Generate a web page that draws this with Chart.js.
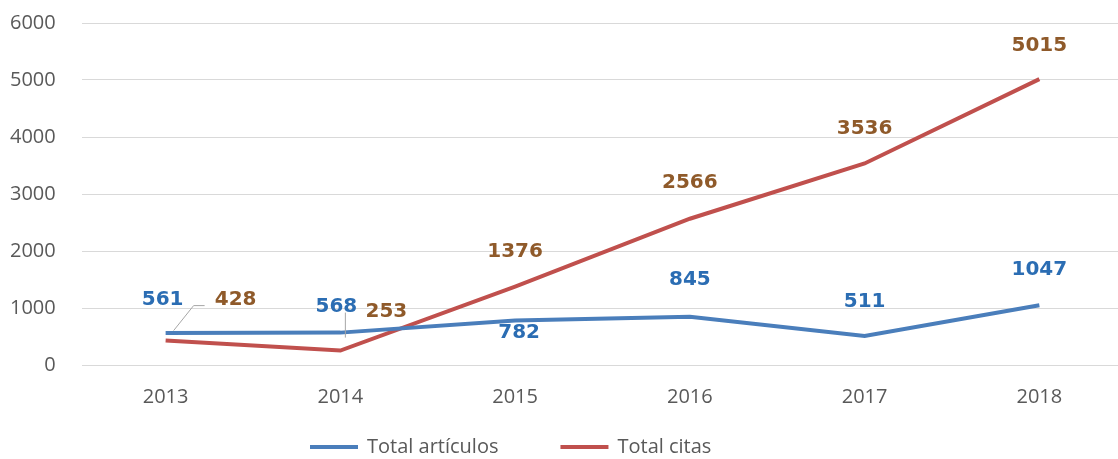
<!DOCTYPE html>
<html>
<head>
<meta charset="utf-8">
<script src="https://cdn.jsdelivr.net/npm/chart.js@4"></script>
<style>
  html, body { margin: 0; padding: 0; background: #fff; }
  #wrap { width: 1118px; height: 459px; }
</style>
</head>
<body>
<div id="wrap"><canvas id="grafico"></canvas></div>
<script>
const years = [2013, 2014, 2015, 2016, 2017, 2018];
const totalArticulos = [561, 568, 782, 845, 511, 1047];
const totalCitas = [428, 253, 1376, 2566, 3536, 5015];
const seriesNames = ['Total artículos', 'Total citas'];

// desplazamiento de cada etiqueta respecto a su punto (px)
const offsArticulos = [[-3, -33], [-4, -26], [4, 12], [0, -37], [0, -34], [0, -36]];
const offsCitas = [[70, -41], [46, -39], [0, -35], [0, -36], [0, -35], [0, -33]];

const azul = '#4a7ebb';
const rojo = '#c0504d';
const textoAzul = '#2b6db3';
const textoMarron = '#8f5a2a';
const gris = '#595959';

const puntos = vals => years.map((y, i) => ({ x: y, y: vals[i] }));

// etiquetas de valor + líneas guía de las dos primeras citas
const etiquetas = {
  id: 'etiquetas',
  afterDatasetsDraw(chart) {
    const ctx = chart.ctx;
    const conf = [
      { offs: offsArticulos, color: textoAzul },
      { offs: offsCitas, color: textoMarron }
    ];
    ctx.save();
    // líneas guía
    const metaC = chart.getDatasetMeta(1).data;
    ctx.strokeStyle = '#a6a6a6';
    ctx.lineWidth = 1;
    let p = metaC[0], lx = p.x + offsCitas[0][0], ly = p.y + offsCitas[0][1];
    ctx.beginPath();
    ctx.moveTo(p.x + 8, p.y - 10);
    ctx.lineTo(lx - 42, ly + 6);
    ctx.lineTo(lx - 31, ly + 6);
    ctx.stroke();
    p = metaC[1]; lx = p.x + offsCitas[1][0]; ly = p.y + offsCitas[1][1];
    ctx.beginPath();
    ctx.moveTo(p.x + 5, p.y - 13);
    ctx.lineTo(p.x + 5, ly + 1);
    ctx.stroke();

    ctx.font = 'bold 20px "DejaVu Sans"';
    ctx.textAlign = 'center';
    ctx.textBaseline = 'middle';
    chart.data.datasets.forEach((ds, i) => {
      const meta = chart.getDatasetMeta(i);
      ctx.fillStyle = conf[i].color;
      meta.data.forEach((pt, j) => {
        const o = conf[i].offs[j];
        ctx.fillText(String(ds.data[j].y), pt.x + o[0], pt.y + o[1]);
      });
    });
    ctx.restore();
  }
};

// leyenda dibujada a mano para controlar el espacio entre elementos
const leyenda = {
  id: 'leyenda',
  afterDraw(chart) {
    const ctx = chart.ctx;
    ctx.save();
    ctx.font = '20px "Open Sans"';
    ctx.textBaseline = 'middle';
    ctx.textAlign = 'left';
    const y = 447;
    let x = 310;
    chart.data.datasets.forEach(ds => {
      ctx.fillStyle = ds.borderColor;
      ctx.fillRect(x, y - 2, 48, 4);
      ctx.fillStyle = gris;
      ctx.fillText(ds.label, x + 57, y);
      x += 57 + ctx.measureText(ds.label).width + 62;
    });
    ctx.restore();
  }
};

new Chart(document.getElementById('grafico'), {
  type: 'line',
  data: {
    datasets: [
      {
        label: seriesNames[0],
        data: puntos(totalArticulos),
        borderColor: azul,
        backgroundColor: azul,
        borderWidth: 4,
        pointRadius: 0,
        tension: 0
      },
      {
        label: seriesNames[1],
        data: puntos(totalCitas),
        borderColor: rojo,
        backgroundColor: rojo,
        borderWidth: 4,
        pointRadius: 0,
        tension: 0
      }
    ]
  },
  options: {
    responsive: true,
    maintainAspectRatio: false,
    animation: false,
    layout: { padding: { left: 10, right: 0, top: 23, bottom: 30 } },
    plugins: {
      legend: { display: false },
      tooltip: { enabled: false }
    },
    scales: {
      x: {
        type: 'linear',
        min: 2012.52,
        max: 2018.45,
        grid: { display: false, drawTicks: false },
        border: { display: false },
        ticks: {
          stepSize: 1,
          includeBounds: false,
          color: gris,
          font: { family: 'Open Sans', size: 20 },
          padding: 20,
          callback: v => String(v)
        }
      },
      y: {
        min: 0,
        max: 6000,
        ticks: {
          stepSize: 1000,
          color: gris,
          font: { family: 'Open Sans', size: 20 },
          padding: 0,
          callback: v => String(v)
        },
        // la marca de tick invisible deja el hueco entre números y rejilla
        grid: { color: '#d9d9d9', lineWidth: 1, drawTicks: true, tickLength: 26, tickColor: 'rgba(0,0,0,0)' },
        border: { display: false }
      }
    }
  },
  plugins: [etiquetas, leyenda]
});
</script>
</body>
</html>
